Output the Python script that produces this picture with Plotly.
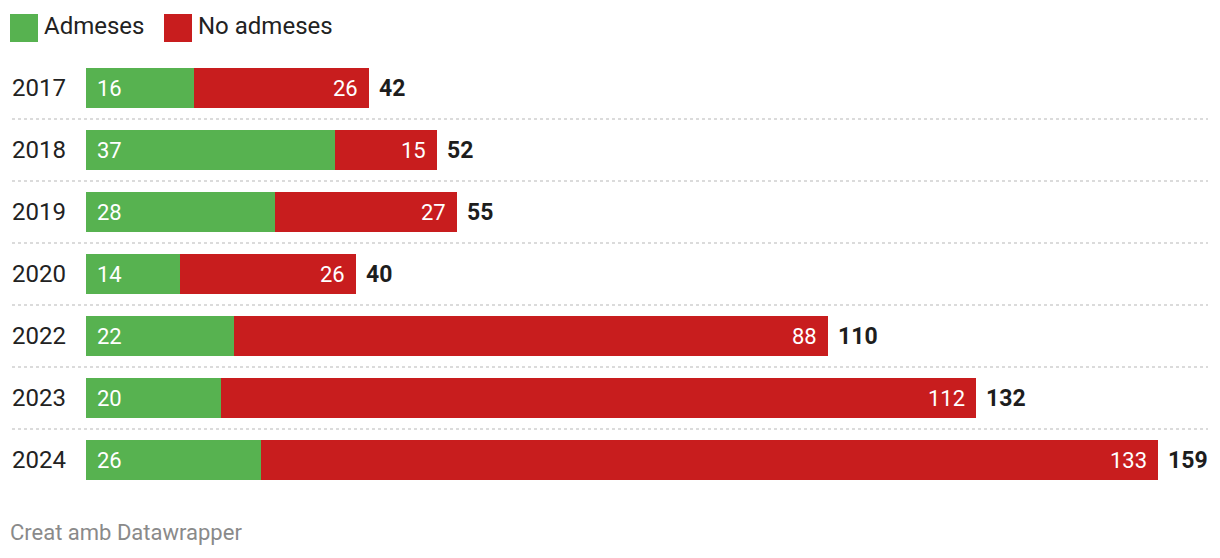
import plotly.graph_objects as go

years = ["2017", "2018", "2019", "2020", "2022", "2023", "2024"]
admeses = [16, 37, 28, 14, 22, 20, 26]
no_admeses = [26, 15, 27, 26, 88, 112, 133]
totals = [a + b for a, b in zip(admeses, no_admeses)]
series_names = ["Admeses", "No admeses"]
colors = ["#57b250", "#c81d1e"]

W, H = 1220, 558
L, R, T, B = 86, 62, 57, 67
PW = W - L - R
PH = H - T - B
FONT = "Roboto"

def px_to_paper_x(px):
    return (px - L) / PW

def px_to_paper_y(py):
    return 1 - (py - T) / PH

fig = go.Figure()
fig.add_trace(go.Bar(y=years, x=admeses, orientation="h", marker=dict(color=colors[0], line=dict(width=0)),
                     name=series_names[0], showlegend=False, hoverinfo="skip"))
fig.add_trace(go.Bar(y=years, x=no_admeses, orientation="h", marker=dict(color=colors[1], line=dict(width=0)),
                     name=series_names[1], showlegend=False, hoverinfo="skip"))

annotations = []
shapes = []
for i, yr in enumerate(years):
    # year labels
    annotations.append(dict(x=px_to_paper_x(10), xref="paper", y=i, yref="y", text=yr, showarrow=False,
                            xanchor="left", yanchor="middle", font=dict(family=FONT, size=24, color="#222222")))
    annotations.append(dict(x=0, xref="x", y=i, yref="y", text=str(admeses[i]), showarrow=False,
                            xanchor="left", yanchor="middle", xshift=9,
                            font=dict(family=FONT, size=22, color="white")))
    annotations.append(dict(x=totals[i], xref="x", y=i, yref="y", text=str(no_admeses[i]), showarrow=False,
                            xanchor="right", yanchor="middle", xshift=-9,
                            font=dict(family=FONT, size=22, color="white")))
    annotations.append(dict(x=totals[i], xref="x", y=i, yref="y", text="<b>%d</b>" % totals[i], showarrow=False,
                            xanchor="left", yanchor="middle", xshift=8,
                            font=dict(family=FONT, size=23, color="#1d1d1d")))
    if i < len(years) - 1:
        shapes.append(dict(type="line", xref="paper", yref="y", x0=px_to_paper_x(12), x1=px_to_paper_x(1208),
                           y0=i + 0.5, y1=i + 0.5, line=dict(color="#cfcfcf", width=1.5, dash="dot")))

# legend
leg_x = [10, 164]
for j, name in enumerate(series_names):
    shapes.append(dict(type="rect", xref="paper", yref="paper",
                       x0=px_to_paper_x(leg_x[j]), x1=px_to_paper_x(leg_x[j] + 28),
                       y0=px_to_paper_y(42), y1=px_to_paper_y(14),
                       fillcolor=colors[j], line=dict(width=0)))
    annotations.append(dict(x=px_to_paper_x(leg_x[j] + 32), xref="paper", y=px_to_paper_y(26), yref="paper",
                            text=name, showarrow=False, xanchor="left", yanchor="middle",
                            font=dict(family=FONT, size=24, color="#222222")))

annotations.append(dict(x=px_to_paper_x(8), xref="paper", y=px_to_paper_y(532), yref="paper",
                        text="Creat amb Datawrapper", showarrow=False, xanchor="left", yanchor="middle",
                        font=dict(family=FONT, size=22, color="#8a8a8a")))

fig.update_layout(
    width=W, height=H, barmode="stack", bargap=22 / 62,
    margin=dict(l=L, r=R, t=T, b=B, autoexpand=False),
    plot_bgcolor="white", paper_bgcolor="white",
    xaxis=dict(range=[0, max(totals)], visible=False, fixedrange=True),
    yaxis=dict(type="category", categoryorder="array", categoryarray=years, autorange=False,
               range=[len(years) - 0.5, -0.5], visible=False, fixedrange=True),
    annotations=annotations, shapes=shapes, showlegend=False,
)

fig.write_html("out.html", config={"displayModeBar": False})
